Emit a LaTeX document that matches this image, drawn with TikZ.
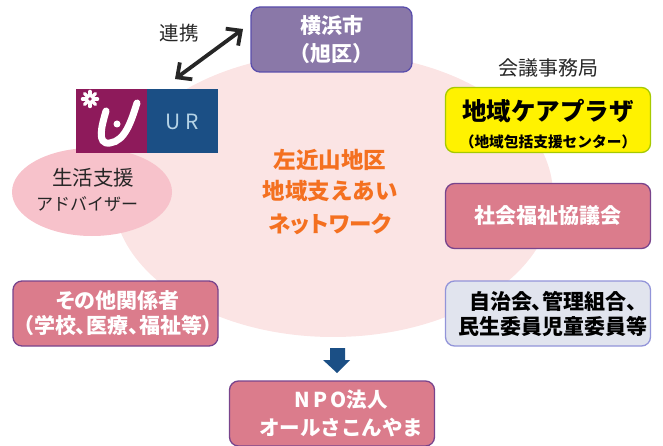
\documentclass[tikz,border=0pt]{standalone}
\usepackage{fontspec}
\setmainfont{Noto Sans CJK JP}
\newfontfamily\propfont{Noto Sans CJK JP}[RawFeature=+palt]
\usepackage{xcolor}
\usetikzlibrary{arrows.meta}
\definecolor{netpink}{HTML}{FBE4E4}
\definecolor{advpink}{HTML}{F7C2CB}
\definecolor{rosefill}{HTML}{DB7C8C}
\definecolor{violetfill}{HTML}{8A78A8}
\definecolor{plazayellow}{HTML}{FFF200}
\definecolor{localgray}{HTML}{E1E4EE}
\definecolor{netorange}{HTML}{F47020}
\definecolor{urred}{HTML}{8E1A5B}
\definecolor{urblue}{HTML}{1B4F85}
\definecolor{urtext}{HTML}{B5D3E6}
\newcommand{\px}[1]{\fontsize{#1}{#1}\selectfont}
\tikzset{
  orgbox/.style={draw=#1,line width=1.3pt,rounded corners=9pt,minimum height=65pt,minimum width=205pt,
    align=center,inner sep=0pt,font=\px{21}\bfseries},
  rosebox/.style={orgbox=black!45!blue!45!rosefill,fill=rosefill,text=white},
  plain/.style={align=center,inner sep=0pt,text=black!85},
}
\begin{document}
\begin{tikzpicture}[x=1pt,y=-1pt]
        \useasboundingbox (0,0) rectangle (663,446);
        % Background ellipses
        \fill[netpink] (333,195) ellipse [x radius=220,y radius=142];
        \fill[advpink] (92,192) ellipse [x radius=80,y radius=44];
        % Logo
        \fill[urred] (76,89) rectangle (147,153);
        \fill[urblue] (147,89) rectangle (218,153);
        \foreach \a in {0,45,...,315}
            \draw[white,line width=3.5pt,line cap=round] (90,99) -- ++(\a:7.5);
        \fill[urred] (90,99) circle (1.8);
        \draw[white,line width=7pt,line cap=round] (106,111) .. controls (102,125) and (96,145) .. (110,143)
            .. controls (125,141) and (131,122) .. (137,103);
        \fill[white] (117,124) circle (3.5);
        \node (ur) at (182,122) {\color{urtext}\px{21}U\hspace{5pt}R};
        % Top left
        \node[orgbox=black!30!blue!35!violetfill,fill=violetfill,text=white,minimum width=161pt] (city) at (331.5,39.5)
            {横浜市\\[7pt]（旭区）};
        \node[plain,font=\px{19.5}] (link) at (179,33) {連携};
        \coordinate (linka) at (243,29);
        \coordinate (linkb) at (175,79);
        \draw[{Straight Barb[length=11pt,width=21pt]}-{Straight Barb[length=11pt,width=21pt]},line width=3.8pt,black!85] (linkb) -- (linka);
        \node[plain,font=\px{20.5}] (adv) at (87,190) {\hspace{12pt}生活支援\\[4pt]\px{17}アドバイザー};
        % Right column
        \node[plain,font=\px{20}] (office) at (548,68) {会議事務局};
        \node[orgbox=black!50!green!35!plazayellow,fill=plazayellow,text=black] (plaza) at (548,120)
            {\rule{0pt}{30pt}\px{24.5}地域ケアプラザ\\[6pt]\px{14.7}（地域包括支援センター）};
        \node[rosebox] (council) at (548,216) {社会福祉協議会};
        \node[orgbox=black!30!blue!35!localgray,fill=localgray,text=black] (local) at (548,313.5)
            {\hspace{10pt}\propfont\px{21}自治会、管理組合、\\[4pt]\hspace{10pt}\propfont\px{21}民生委員児童委員等};
        % Left and bottom
        \node[rosebox] (others) at (115.5,313.5) {\hspace{5pt}\propfont\px{21}その他関係者\\[4pt]\hspace{5pt}\propfont\px{21}（学校、医療、福祉等）};
        \node[rosebox] (npo) at (332,413.5) {\hspace{18pt}\propfont\px{20.5}N\,P\,O法人\\[7pt]\hspace{18pt}\px{20.5}オールさこんやま};
        % Network title
        \node[align=center,inner sep=0pt,text=netorange,font=\px{22.5}\bfseries] (net) at (330,192)
            {左近山地区\\[9pt]地域支えあい\\[10pt]\propfont\px{22.5}ネットワーク};
        % Block arrow
        \fill[urblue] (330,348) -- (345,348) -- (345,360) -- (350,360) -- (337,373) -- (323,360) -- (330,360) -- cycle;
\end{tikzpicture}
\end{document}
